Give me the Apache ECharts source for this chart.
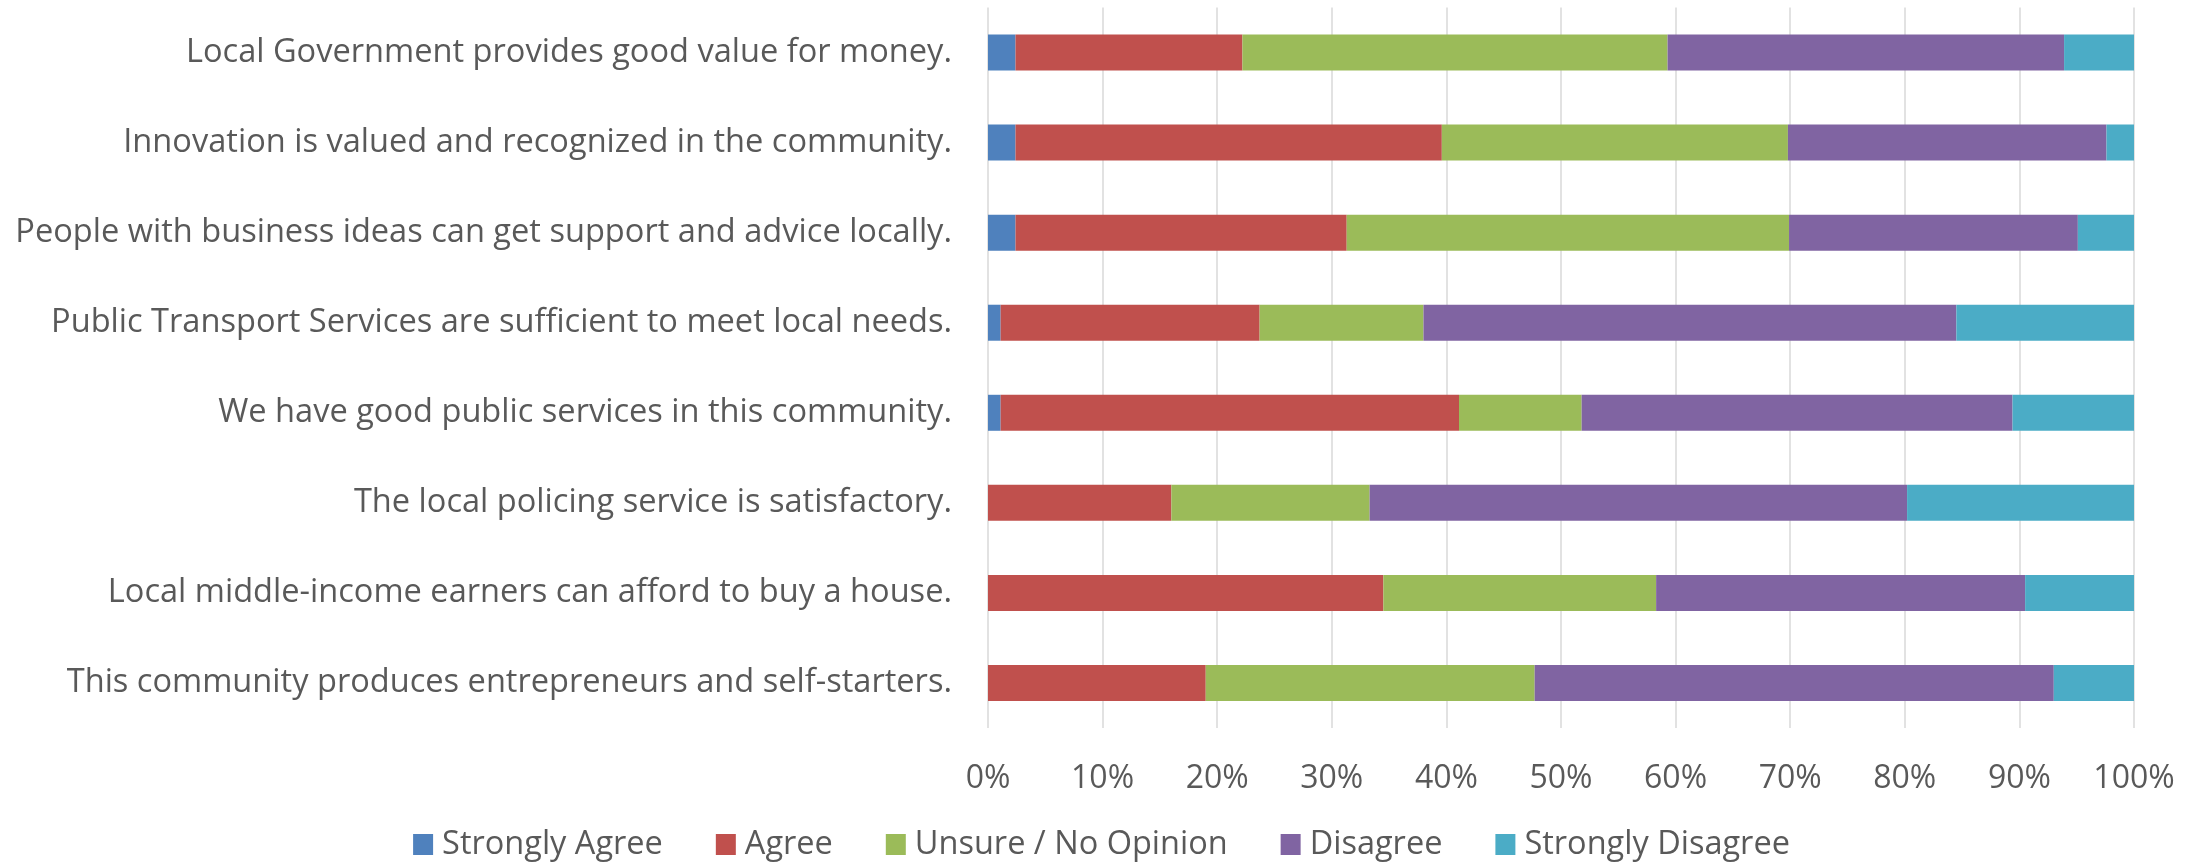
<!DOCTYPE html>
<html>
<head>
<meta charset="utf-8">
<script src="https://cdn.jsdelivr.net/npm/echarts@6/dist/echarts.min.js"></script>
<style>
  html, body { margin: 0; padding: 0; background: #fff; }
  #chart { width: 2203px; height: 864px; }
</style>
</head>
<body>
<div id="chart"></div>
<script>
// statements, top to bottom
var categories = [
  'Local Government provides good value for money.',
  'Innovation is valued and recognized in the community.',
  'People with business ideas can get support and advice locally.',
  'Public Transport Services are sufficient to meet local needs.',
  'We have good public services in this community.',
  'The local policing service is satisfactory.',
  'Local middle-income earners can afford to buy a house.',
  'This community produces entrepreneurs and self-starters.'
];
// share of answers, %
var stronglyAgree    = [2.4, 2.4, 2.4, 1.1, 1.1, 0, 0, 0];
var agree            = [19.8, 37.2, 28.9, 22.6, 40.0, 16.0, 34.5, 19.0];
var unsure           = [37.1, 30.2, 38.6, 14.3, 10.7, 17.3, 23.8, 28.7];
var disagree         = [34.6, 27.8, 25.2, 46.5, 37.6, 46.9, 32.2, 45.3];
var stronglyDisagree = [6.1, 2.4, 4.9, 15.5, 10.6, 19.8, 9.5, 7.0];

var seriesNames = ['Strongly Agree', 'Agree', 'Unsure / No Opinion', 'Disagree', 'Strongly Disagree'];
var seriesData = [stronglyAgree, agree, unsure, disagree, stronglyDisagree];
var colors = ['#4f81bd', '#c0504d', '#9bbb59', '#8064a2', '#4bacc6'];

var font = '"Open Sans", sans-serif';
var textColor = '#595959';

var series = [];
for (var i = 0; i < seriesNames.length; i++) {
  series.push({
    name: seriesNames[i],
    type: 'bar',
    stack: 'total',
    barWidth: 36,
    data: seriesData[i],
    itemStyle: { color: colors[i] }
  });
}

var chart = echarts.init(document.getElementById('chart'));
chart.setOption({
  animation: false,
  color: colors,
  textStyle: { fontFamily: font },
  grid: { left: 988, right: 69, top: 7.5, bottom: 136, containLabel: false },
  legend: {
    bottom: -2,
    left: 'center',
    itemWidth: 20,
    itemHeight: 21,
    itemGap: 53,
    icon: 'rect',
    textStyle: { fontSize: 32.5, color: textColor, fontFamily: font, padding: [0, 0, 0, 4] },
    data: seriesNames
  },
  xAxis: {
    type: 'value',
    min: 0,
    max: 100,
    interval: 10,
    axisLine: { show: false },
    axisTick: { show: false },
    splitLine: { show: true, lineStyle: { color: '#d9d9d9', width: 1.5 } },
    axisLabel: {
      formatter: '{value}%',
      fontSize: 32,
      color: textColor,
      fontFamily: font,
      margin: 35
    }
  },
  yAxis: {
    type: 'category',
    inverse: true,
    data: categories,
    axisLine: { show: false },
    axisTick: { show: false },
    axisLabel: {
      fontSize: 32.6,
      color: textColor,
      fontFamily: font,
      margin: 36
    }
  },
  series: series
});
</script>
</body>
</html>
